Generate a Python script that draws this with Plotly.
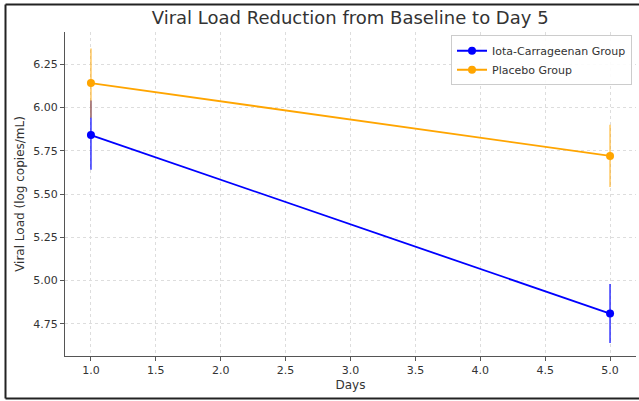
import plotly.graph_objects as go

days = [1.0, 5.0]
iota_vals = [5.84, 4.81]
iota_err = [0.20, 0.17]
placebo_vals = [6.14, 5.72]
placebo_err = [0.20, 0.18]
x_ticks = [1.0, 1.5, 2.0, 2.5, 3.0, 3.5, 4.0, 4.5, 5.0]
y_ticks = [4.75, 5.00, 5.25, 5.50, 5.75, 6.00, 6.25]

fig = go.Figure()
fig.add_trace(go.Scatter(
    x=days, y=iota_vals, mode="lines+markers", name="Iota-Carrageenan Group",
    line=dict(color="#0000FF", width=1.8), marker=dict(color="#0000FF", size=8),
    error_y=dict(type="data", array=iota_err, visible=True, color="rgba(0,0,255,0.75)", thickness=1.6, width=0),
))
fig.add_trace(go.Scatter(
    x=days, y=placebo_vals, mode="lines+markers", name="Placebo Group",
    line=dict(color="#FFA500", width=1.8), marker=dict(color="#FFA500", size=8),
    error_y=dict(type="data", array=placebo_err, visible=True, color="rgba(255,165,0,0.6)", thickness=1.6, width=0),
))

fig.update_layout(
    width=639, height=401,
    margin=dict(l=65, r=3, t=32, b=45, autoexpand=False),
    paper_bgcolor="white", plot_bgcolor="white",
    font=dict(family="DejaVu Sans", color="#333"),
    title=dict(text="Viral Load Reduction from Baseline to Day 5", x=0.548, xanchor="center",
               y=0.955, yanchor="middle", font=dict(size=18, color="#333"), automargin=False),
    legend=dict(x=0.993, y=0.99, xanchor="right", yanchor="top",
                bordercolor="#ccc", borderwidth=1, bgcolor="rgba(255,255,255,0.9)",
                font=dict(size=11, color="#333"), itemwidth=30, tracegroupgap=0),
    showlegend=True,
)
fig.update_xaxes(
    range=[0.8, 5.2], tickvals=x_ticks, ticktext=[f"{v:.1f}" for v in x_ticks],
    showgrid=True, gridcolor="#ddd", griddash="dot", gridwidth=1,
    showline=True, linecolor="#555", linewidth=1.2, ticks="outside", ticklen=4, tickcolor="#555",
    tickfont=dict(size=11, color="#333"), zeroline=False, automargin=False,
    title=dict(text="Days", font=dict(size=12, color="#333"), standoff=4),
)
fig.update_yaxes(
    range=[4.565, 6.435], tickvals=y_ticks, ticktext=[f"{v:.2f}" for v in y_ticks],
    showgrid=True, gridcolor="#ddd", griddash="dot", gridwidth=1,
    showline=True, linecolor="#555", linewidth=1.2, ticks="outside", ticklen=4, tickcolor="#555",
    tickfont=dict(size=11, color="#333"), zeroline=False, automargin=False,
    title=dict(text="Viral Load (log copies/mL)", font=dict(size=12, color="#333"), standoff=6),
)

# outer frame
top_y = 1 + 27.5 / 324
bot_y = -42.5 / 324
left_x = -59.5 / 571
fig.add_shape(type="line", xref="paper", yref="paper", x0=left_x, x1=left_x, y0=bot_y, y1=top_y,
              line=dict(color="#222", width=2))
fig.add_shape(type="line", xref="paper", yref="paper", x0=left_x, x1=1.01, y0=top_y, y1=top_y,
              line=dict(color="#222", width=2))
fig.add_shape(type="line", xref="paper", yref="paper", x0=left_x, x1=1.01, y0=bot_y, y1=bot_y,
              line=dict(color="#222", width=2))

fig.write_html("out.html", config={"displayModeBar": False},
               post_script="document.body.style.margin='0';document.body.style.overflow='hidden';")
